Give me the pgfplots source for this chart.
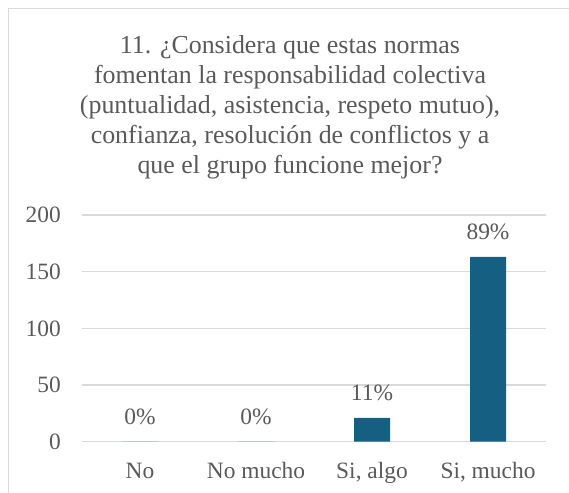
\documentclass[border=0pt]{standalone}
\usepackage{pgfplots}
\pgfplotsset{compat=1.18}
\usepackage{fontspec}
\setmainfont{Liberation Serif}
\definecolor{barblue}{HTML}{156082}
\definecolor{txtgray}{HTML}{595959}
\definecolor{gridgray}{HTML}{D9D9D9}
\begin{document}
\begin{tikzpicture}
\useasboundingbox (0,0) rectangle (569bp,493bp);
% chart frame
\draw[gridgray, line width=1.3bp] (8.3bp,-2bp) -- (8.3bp,484.3bp) -- (575bp,484.3bp);
% title
\begin{scope}[every node/.style={anchor=base, inner sep=0pt, text=txtgray, font=\fontsize{26}{30}\selectfont}]
\node at (290bp,439bp) {11. ¿Considera que estas normas};
\node at (290bp,409bp) {fomentan la responsabilidad colectiva};
\node at (290bp,379bp) {(puntualidad, asistencia, respeto mutuo),};
\node at (290bp,349bp) {confianza, resolución de conflictos y a};
\node at (290bp,319bp) {que el grupo funcione mejor?};
\end{scope}
\begin{axis}[
  at={(82bp,51.3bp)}, anchor=south west,
  scale only axis, width=464bp, height=226.7bp,
  xmin=-0.5, xmax=3.5, ymin=0, ymax=200,
  ytick={0,50,100,150,200},
  xtick={0,1,2,3},
  xticklabels={No,No mucho,{Si, algo},{Si, mucho}},
  axis line style={draw=none},
  major tick length=0pt,
  tick style={draw=none},
  ymajorgrids,
  major grid style={gridgray, line width=1.1bp},
  /pgf/number format/assume math mode=true,
  yticklabel style={font=\fontsize{23.5}{28}\selectfont, text=txtgray, inner sep=0pt, anchor=east, xshift=-21bp},
  xticklabel style={font=\fontsize{23.5}{28}\selectfont, text=txtgray, inner sep=0pt, anchor=base, yshift=-36.3bp},
  ybar, bar width=36bp,
  nodes near coords,
  point meta=explicit symbolic,
  every node near coord/.append style={font=\fontsize{23.5}{28}\selectfont, text=txtgray, inner sep=0pt, anchor=base, yshift=17bp},
]
\addplot[fill=barblue, draw=none] coordinates {
  (0,0) [0\%]
  (1,0) [0\%]
  (2,21) [11\%]
  (3,163) [89\%]
};
\end{axis}
\end{tikzpicture}
\end{document}
